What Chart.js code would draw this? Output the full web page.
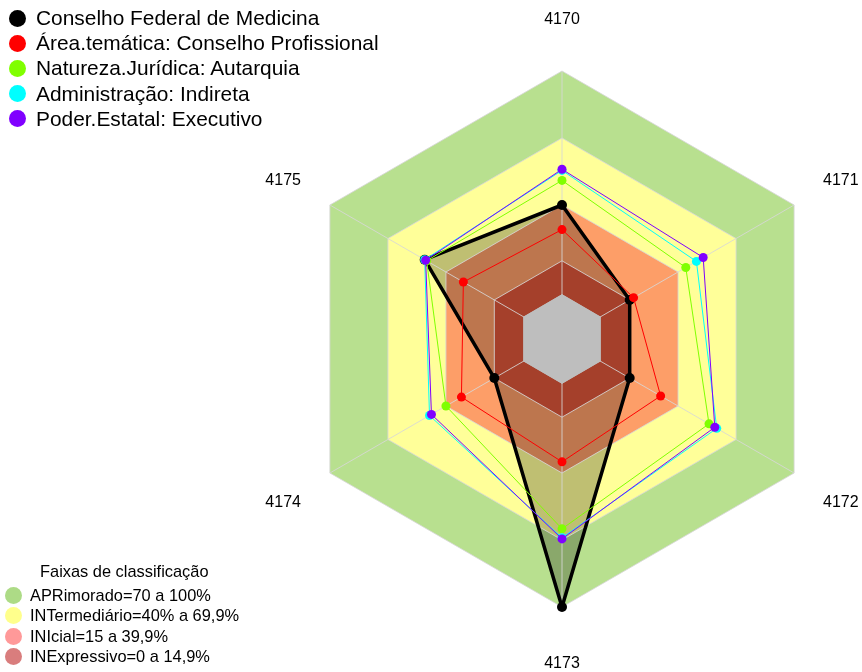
<!DOCTYPE html>
<html>
<head>
<meta charset="utf-8">
<script src="https://cdn.jsdelivr.net/npm/chart.js@4.4.1/dist/chart.umd.min.js"></script>
<style>
  body { margin: 0; background: #fff; font-family: "Liberation Sans", Arial, sans-serif; }
  #wrap { position: relative; width: 862px; height: 672px; overflow: hidden; }
  #myChart { position: absolute; left: 0; top: 0; }
  .row { position: absolute; display: flex; align-items: center; white-space: nowrap; color: #000; }
  .dot { display: inline-block; border-radius: 50%; flex: none; }
</style>
</head>
<body>
<div id="wrap">
  <canvas id="myChart" width="862" height="672"></canvas>
</div>
<script>
const labels = ['4170', '4171', '4172', '4173', '4174', '4175'];

const seriesNames = [
  'Conselho Federal de Medicina',
  'Área.temática: Conselho Profissional',
  'Natureza.Jurídica: Autarquia',
  'Administração: Indireta',
  'Poder.Estatal: Executivo'
];
const conselhoFederal = [40, 15, 15, 100, 15, 51];
const areaTematica = [29, 17, 31, 35, 32, 31];
const naturezaJuridica = [51, 44, 56, 65, 40, 50];
const administracao = [55.5, 49.5, 60, 69, 48.5, 51];
const poderEstatal = [56, 53, 59, 69.5, 47.5, 50.5];

// faixas: limite superior de cada faixa (a ultima e o miolo cinza)
const bandNames = ['APRimorado=70 a 100%', 'INTermediário=40% a 69,9%', 'INIcial=15 a 39,9%', 'INExpressivo=0 a 14,9%'];
const bandTops = [100, 70, 40, 15, 0];
const gridValues = [-20, 15, 40, 70, 100];

const seriesColors = ['#000000', '#ff0000', '#80ff00', '#00ffff', '#8000ff'];
const bandColors = ['#b8e08f', '#ffff99', '#fd9e68', '#a5402b', '#bebebe'];
const bandLegendColors = ['#addb86', '#ffff8c', '#ff9999', '#d97d7d'];
const bandOrder = [10, 9, 8, 6, 5];

const seriesData = [conselhoFederal, areaTematica, naturezaJuridica, administracao, poderEstatal];

const datasets = seriesData.map((d, i) => ({
  label: seriesNames[i],
  data: d,
  borderColor: seriesColors[i],
  backgroundColor: i === 0 ? 'rgba(0,0,0,0.25)' : seriesColors[i],
  pointBackgroundColor: seriesColors[i],
  pointBorderWidth: 0,
  pointRadius: i === 0 ? 5 : 4.5,
  borderWidth: i === 0 ? 3.5 : 1,
  borderJoinStyle: 'round',
  fill: i === 0 ? 'start' : false,
  order: i === 0 ? 7 : 5 - i
}));

bandTops.forEach((top, i) => {
  datasets.push({
    label: 'faixa' + i,
    data: labels.map(() => top),
    backgroundColor: bandColors[i],
    borderWidth: 0,
    pointRadius: 0,
    fill: 'start',
    order: bandOrder[i]
  });
});
const coreIndex = datasets.length - 1;

// miolo cinza por cima da grade (as linhas radiais nao aparecem nele)
const coreOnTop = {
  id: 'coreOnTop',
  beforeDatasetsDraw(chart) {
    const line = chart.getDatasetMeta(coreIndex).dataset;
    const c = chart.ctx;
    c.save();
    c.fillStyle = bandColors[bandColors.length - 1];
    c.beginPath();
    line.path(c);
    c.closePath();
    c.fill();
    c.restore();
  }
};

const axisLabels = {
  id: 'axisLabels',
  afterDraw(chart) {
    const r = chart.scales.r;
    const c = chart.ctx;
    c.save();
    c.font = '16px "Liberation Sans", Arial, sans-serif';
    c.fillStyle = '#000';
    c.textAlign = 'center';
    c.textBaseline = 'middle';
    chart.data.labels.forEach((lab, i) => {
      const p = r.getPointPosition(i, r.drawingArea + 54);
      c.fillText(lab, p.x, p.y + 3);
    });
    c.restore();
  }
};

new Chart(document.getElementById('myChart'), {
  type: 'radar',
  data: { labels: labels, datasets: datasets },
  options: {
    responsive: false,
    animation: false,
    layout: { padding: { left: 294, right: 32, top: 71, bottom: 65 } },
    elements: { line: { tension: 0 } },
    scales: {
      r: {
        min: -20,
        max: 100,
        ticks: { display: false },
        afterBuildTicks: s => { s.ticks = gridValues.map(v => ({ value: v })); },
        grid: { color: 'rgba(215,215,215,0.85)', lineWidth: 1 },
        angleLines: { color: 'rgba(215,215,215,0.85)', lineWidth: 1 },
        pointLabels: { display: false }
      }
    },
    plugins: {
      legend: { display: false },
      tooltip: { enabled: false },
      filler: { drawTime: 'beforeDraw' }
    }
  },
  plugins: [coreOnTop, axisLabels]
});

// legendas em HTML
const wrap = document.getElementById('wrap');
function addRow(top, left, h, dotSize, dotColor, gap, text, fontSize) {
  const row = document.createElement('div');
  row.className = 'row';
  row.style.top = top + 'px';
  row.style.left = left + 'px';
  row.style.height = h + 'px';
  row.style.fontSize = fontSize + 'px';
  if (dotColor) {
    const dot = document.createElement('span');
    dot.className = 'dot';
    dot.style.width = dotSize + 'px';
    dot.style.height = dotSize + 'px';
    dot.style.background = dotColor;
    dot.style.marginRight = gap + 'px';
    row.appendChild(dot);
  }
  row.appendChild(document.createTextNode(text));
  wrap.appendChild(row);
}

seriesNames.forEach((name, i) => {
  addRow(5.5 + i * 25.2, 9, 25, 17, seriesColors[i], 10, name, 20.9);
});

addRow(561, 40, 20, 0, null, 0, 'Faixas de classificação', 16.4);
bandNames.forEach((name, i) => {
  addRow(585.5 + i * 20.4, 4.5, 20, 17, bandLegendColors[i], 8.5, name, 16.4);
});
</script>
</body>
</html>
